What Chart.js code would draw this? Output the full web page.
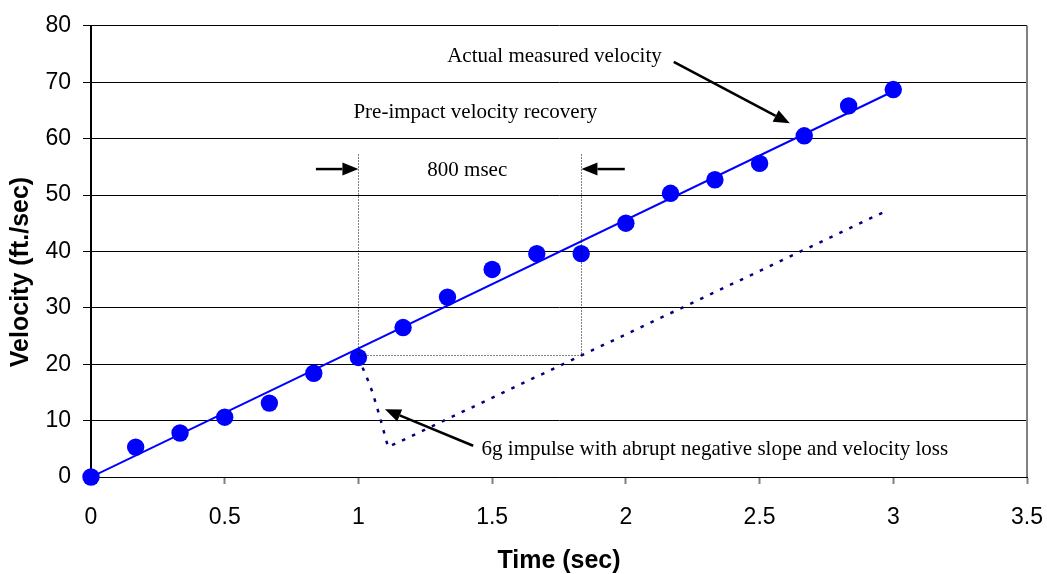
<!DOCTYPE html>
<html>
<head>
<meta charset="utf-8">
<script src="https://cdn.jsdelivr.net/npm/chart.js@4/dist/chart.umd.min.js"></script>
<style>
  html, body { margin: 0; padding: 0; background: #fff; }
  #wrap { width: 1047px; height: 574px; position: relative; }
</style>
</head>
<body>
<div id="wrap"><canvas id="chart"></canvas></div>
<script>
// measured velocity samples (sec, ft/sec)
const timeSec = [0, 0.167, 0.333, 0.5, 0.667, 0.833, 1.0, 1.167, 1.333, 1.5, 1.667, 1.833, 2.0, 2.167, 2.333, 2.5, 2.667, 2.833, 3.0]
const velocity = [0, 5.3, 7.8, 10.6, 13.1, 18.4, 21.2, 26.5, 31.9, 36.8, 39.6, 39.6, 45.0, 50.3, 52.7, 55.6, 60.5, 65.8, 68.7]

// straight fit through the samples
const fitTime = [0, 3.0]
const fitVelocity = [0, 68.4]

// velocity after the 6g impulse
const impulseTime = [1.0, 1.02, 1.037, 1.052, 1.078, 1.101, 1.111, 2.97]
const impulseVelocity = [21.2, 18.9, 17.0, 15.1, 11.0, 7.0, 5.3, 47.1]

const xTicks = [0, 0.5, 1, 1.5, 2, 2.5, 3, 3.5]
const yTicks = [0, 10, 20, 30, 40, 50, 60, 70, 80]

const xTitle = 'Time (sec)'
const yTitle = 'Velocity (ft./sec)'

const pts = (xs, ys) => xs.map((x, i) => ({ x: x, y: ys[i] }))

// callouts, in data units
const notes = [
    { text: 'Actual measured velocity', x: 1.733, y: 74.6, align: 'center' },
    { text: 'Pre-impact velocity recovery', x: 1.437, y: 64.6, align: 'center' },
    { text: '800 msec', x: 1.407, y: 54.3, align: 'center' },
    { text: '6g impulse with abrupt negative slope and velocity loss', x: 1.4605, y: 4.9, align: 'left' },
]
const arrows = [
    { from: [2.179, 73.6], to: [2.613, 62.7] },
    { from: [0.841, 54.6], to: [1.0, 54.6] },
    { from: [1.996, 54.6], to: [1.834, 54.6] },
    { from: [1.429, 5.54], to: [1.099, 12.0] },
]
const dottedLines = [
    [[1.0, 57.3], [1.0, 21.6]],
    [[1.834, 57.3], [1.834, 21.6]],
    [[1.0, 21.6], [1.834, 21.6]],
]

const serif = "'Liberation Serif', 'Times New Roman', serif"
const sans = "'Liberation Sans', Arial, sans-serif"

function drawArrow(ctx, x1, y1, x2, y2) {
    const a = Math.atan2(y2 - y1, x2 - x1)
    const hl = 16, hw = 6.5
    const c = Math.cos(a), s = Math.sin(a)
    ctx.beginPath()
    ctx.moveTo(x1, y1)
    ctx.lineTo(x2 - hl * c, y2 - hl * s)
    ctx.stroke()
    ctx.beginPath()
    ctx.moveTo(x2, y2)
    ctx.lineTo(x2 - hl * c + hw * s, y2 - hl * s - hw * c)
    ctx.lineTo(x2 - hl * c - hw * s, y2 - hl * s + hw * c)
    ctx.closePath()
    ctx.fill()
}

const extras = {
    id: 'extras',
    afterDatasetsDraw(chart) {
        const ctx = chart.ctx
        const xs = chart.scales.x, ys = chart.scales.y
        const area = chart.chartArea
        ctx.save()

        // plot area border on the right
        ctx.strokeStyle = '#808080'
        ctx.lineWidth = 2
        ctx.beginPath()
        ctx.moveTo(area.right, area.top)
        ctx.lineTo(area.right, area.bottom)
        ctx.stroke()

        // dotted guides for the 800 msec window
        ctx.strokeStyle = '#000'
        ctx.lineWidth = 1
        ctx.setLineDash([1, 2])
        dottedLines.forEach(l => {
            ctx.beginPath()
            ctx.moveTo(Math.round(xs.getPixelForValue(l[0][0])) + 0.5, Math.round(ys.getPixelForValue(l[0][1])) + 0.5)
            ctx.lineTo(Math.round(xs.getPixelForValue(l[1][0])) + 0.5, Math.round(ys.getPixelForValue(l[1][1])) + 0.5)
            ctx.stroke()
        })
        ctx.setLineDash([])

        ctx.fillStyle = '#000'
        ctx.lineWidth = 2.5
        arrows.forEach(a => {
            drawArrow(ctx,
                xs.getPixelForValue(a.from[0]), ys.getPixelForValue(a.from[1]),
                xs.getPixelForValue(a.to[0]), ys.getPixelForValue(a.to[1]))
        })

        ctx.font = '21px ' + serif
        ctx.textBaseline = 'middle'
        notes.forEach(n => {
            ctx.textAlign = n.align
            ctx.fillText(n.text, xs.getPixelForValue(n.x), ys.getPixelForValue(n.y))
        })

        // y axis title
        ctx.font = 'bold 25px ' + sans
        ctx.textAlign = 'center'
        ctx.translate(21, 272)
        ctx.rotate(-Math.PI / 2)
        ctx.fillText(yTitle, 0, 0)
        ctx.restore()
    }
}

new Chart(document.getElementById('chart'), {
    type: 'scatter',
    data: {
        datasets: [
            {
                data: pts(timeSec, velocity),
                backgroundColor: '#0000ff',
                borderColor: '#0000ff',
                pointRadius: 8.7,
                pointBorderWidth: 0,
                showLine: false,
                clip: false,
                order: 0
            },
            {
                data: pts(fitTime, fitVelocity),
                borderColor: '#0000ff',
                borderWidth: 2,
                pointRadius: 0,
                showLine: true,
                order: 2
            },
            {
                data: pts(impulseTime, impulseVelocity),
                borderColor: '#000080',
                borderWidth: 2.5,
                borderDash: [3.5, 7.5],
                pointRadius: 0,
                showLine: true,
                order: 1
            },
        ]
    },
    options: {
        responsive: true,
        maintainAspectRatio: false,
        animation: false,
        devicePixelRatio: 1,
        layout: { padding: { top: 25, right: 20, left: 0, bottom: 0 } },
        plugins: { legend: { display: false }, tooltip: { enabled: false } },
        scales: {
            x: {
                type: 'linear',
                min: 0,
                max: 3.5,
                afterBuildTicks: s => { s.ticks = xTicks.map(v => ({ value: v })) },
                afterFit: s => { s.height = 97; s.paddingLeft = 0; s.paddingRight = 0 },
                grid: { drawOnChartArea: false, drawTicks: true, tickLength: 7, tickColor: '#808080', tickWidth: 2 },
                border: { color: '#000', width: 1 },
                ticks: { color: '#000', padding: 22, font: { family: sans, size: 23, lineHeight: 1 }, maxRotation: 0, callback: v => String(v) },
                title: { display: true, text: xTitle, color: '#000', padding: 0, font: { family: sans, size: 25, weight: 'bold', lineHeight: 1 } }
            },
            y: {
                type: 'linear',
                min: 0,
                max: 80,
                afterBuildTicks: s => { s.ticks = yTicks.map(v => ({ value: v })) },
                afterFit: s => { s.width = 91 },
                grid: { color: '#000', lineWidth: 1, tickLength: 8, tickColor: '#000' },
                border: { color: '#000', width: 2 },
                ticks: { color: '#000', padding: 12, font: { family: sans, size: 23 }, callback: v => String(v) }
            }
        }
    },
    plugins: [extras]
})
</script>
</body>
</html>
